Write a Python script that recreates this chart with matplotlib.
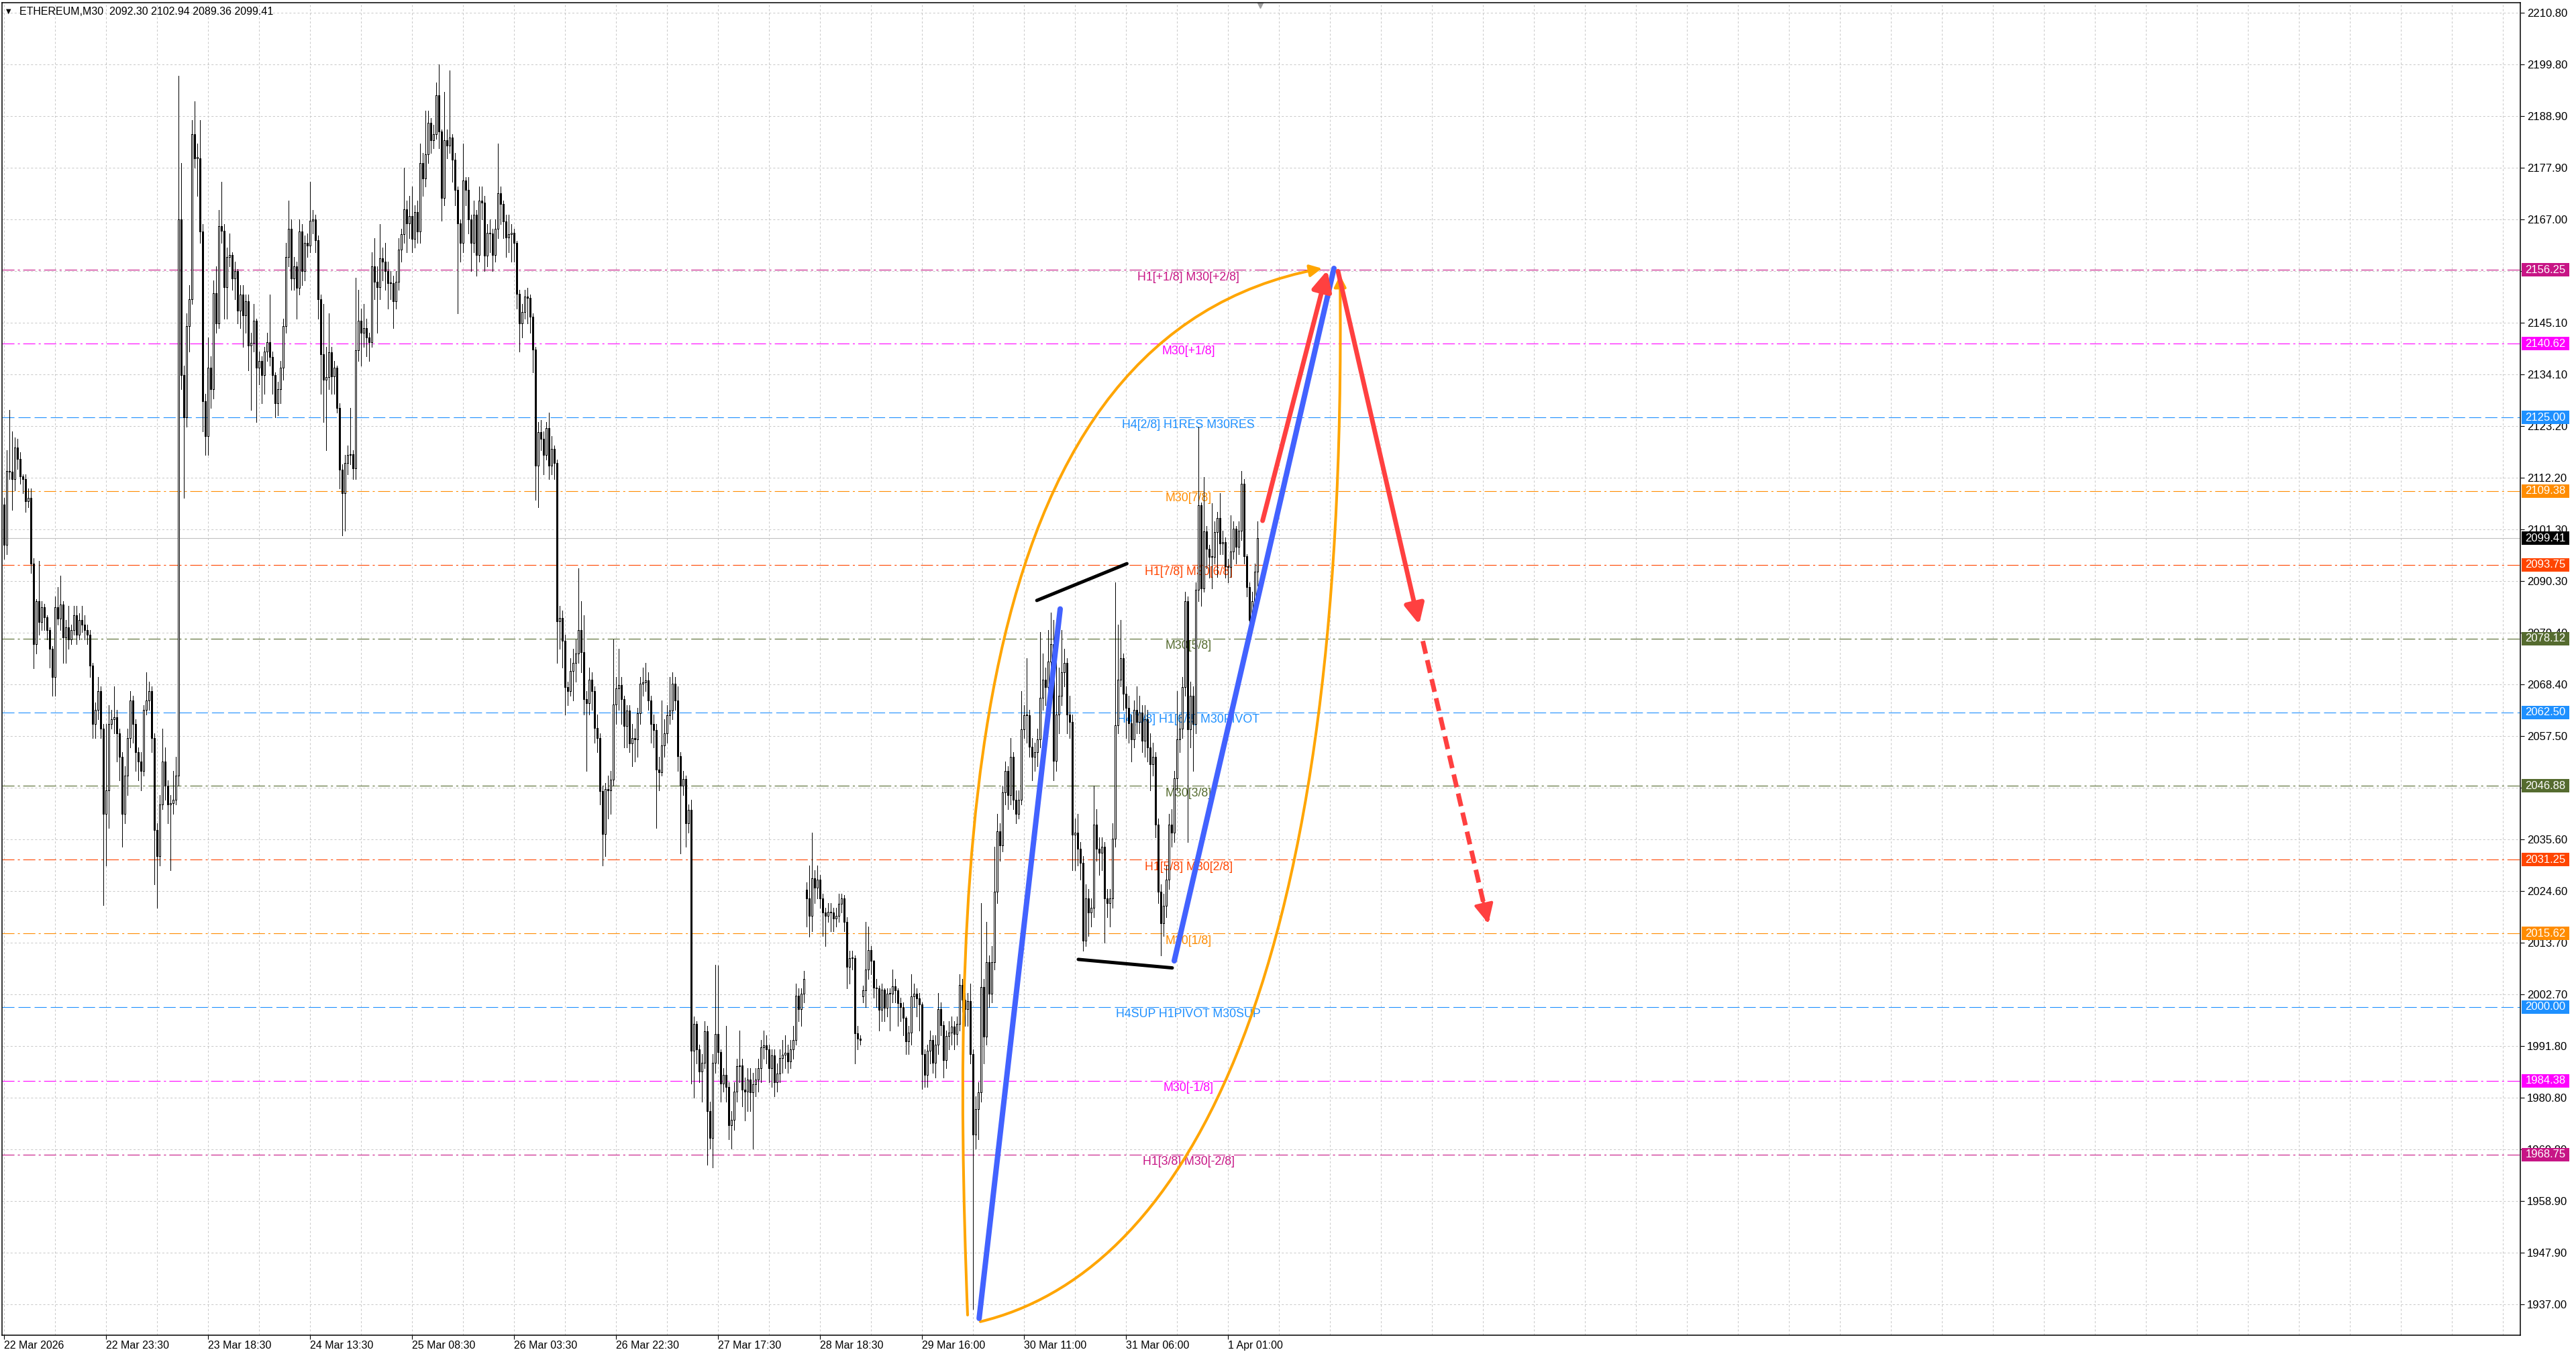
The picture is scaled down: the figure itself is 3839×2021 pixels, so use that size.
import matplotlib
matplotlib.use('Agg')
import numpy as np
import matplotlib.pyplot as plt
import matplotlib.transforms as mtransforms
from matplotlib.path import Path
from matplotlib.patches import FancyArrowPatch, Rectangle

plt.rcParams['font.family'] = ['Liberation Sans', 'DejaVu Sans']
plt.rcParams['lines.scale_dashes'] = False

# ETHEREUM M30 candles (bar index 0 = 22 Mar 2026 04:30)
first_open = 2106.6
gap_opens = {299: 2024.9, 320: 2002.2}
closes = [
    2098, 2113.6, 2113.5, 2112, 2118.6, 2116.2, 2112.5, 2111.9, 2107.3, 2108,
    2094, 2076.9, 2086, 2081.6, 2084.8, 2082.7, 2080, 2076, 2070, 2084.7,
    2082.4, 2085.3, 2078.3, 2080.5, 2078, 2080, 2083, 2079, 2082, 2081,
    2080, 2079, 2072.4, 2060, 2063, 2067, 2059, 2041, 2046, 2060,
    2061, 2061.5, 2058, 2053, 2041, 2049, 2057, 2065, 2060, 2054,
    2052, 2050, 2063, 2065, 2067, 2057, 2037.6, 2032, 2043, 2052,
    2047, 2043, 2043.3, 2044, 2049, 2167, 2134, 2125, 2144.3, 2150,
    2185, 2180, 2180, 2164.4, 2128.4, 2121, 2135.5, 2131, 2151.4, 2145,
    2165.6, 2164.5, 2152.6, 2159, 2159.5, 2154.4, 2156, 2147.6, 2151, 2146.6,
    2149.6, 2140.2, 2140.8, 2145.5, 2135.5, 2137, 2134, 2139, 2141, 2137.8,
    2134, 2128, 2131, 2135.5, 2144.3, 2159, 2165, 2154.4, 2157, 2152.5,
    2164.4, 2156, 2162, 2161.5, 2166.7, 2167, 2162.6, 2150, 2138.4, 2133,
    2133.5, 2138.8, 2133.7, 2135.5, 2127, 2113.9, 2108.9, 2115.4, 2117, 2117.2,
    2114.2, 2139.3, 2145.5, 2143, 2144, 2141.9, 2141, 2157, 2153.7, 2152.6,
    2158.7, 2158, 2156, 2153.5, 2153.5, 2149.6, 2153.7, 2160.6, 2163.8, 2169.1,
    2166.2, 2167.7, 2162.8, 2168.5, 2164.4, 2179, 2175.6, 2180.8, 2187.4, 2183.8,
    2185, 2193.3, 2185.6, 2171.5, 2183.8, 2182.7, 2184.4, 2179.7, 2173.2, 2166.2,
    2162, 2175.2, 2173.2, 2167, 2162, 2168, 2159.4, 2170.9, 2170.5, 2159.3,
    2164.1, 2164, 2159.4, 2165, 2172.6, 2170.2, 2166.5, 2163.2, 2163.8, 2164.1,
    2162, 2151.2, 2144.9, 2147.3, 2150.6, 2150.3, 2146.4, 2139.4, 2114.8, 2121.9,
    2120.5, 2117, 2122.7, 2114.8, 2118.4, 2115.4, 2081.8, 2082.5, 2077.7, 2067.9,
    2067, 2071.2, 2073, 2075, 2080, 2075.3, 2065.3, 2064.4, 2069.4, 2067,
    2059.2, 2057, 2045.8, 2036.7, 2046.2, 2046, 2048.2, 2064.1, 2067.6, 2068.2,
    2065.3, 2059.6, 2062.9, 2055.9, 2057, 2056.8, 2062.3, 2068.6, 2068.8, 2069.3,
    2065, 2060, 2058.7, 2050.4, 2049.8, 2055.5, 2058, 2061.9, 2062.9, 2068.5,
    2065, 2053.2, 2046.9, 2048.3, 2039, 2041.8, 1990.7, 1996.4, 1991, 1986.3,
    1988.2, 1994.8, 1978, 1972.3, 1988.2, 1994.3, 1990.5, 1983.8, 1985.6, 1983.1,
    1974.9, 1976.1, 1982.1, 1987.5, 1987.6, 1982.5, 1982, 1984.6, 1981.9, 1983.7,
    1984.6, 1987.1, 1991.4, 1991.9, 1991, 1987.1, 1989.7, 1984.1, 1985.9, 1989.2,
    1989.9, 1990.3, 1988.5, 1991, 1993, 2002.4, 1999.6, 2002.8, 2006, 2023.1,
    2019.3, 2027.3, 2025.3, 2027, 2023.1, 2020, 2019.3, 2020.2, 2020, 2018.7,
    2019.3, 2021.9, 2023.1, 2018, 2008.5, 2010.4, 2010.4, 1994.5, 1993.3, 1993,
    2003.5, 2007.9, 2012.1, 2009.8, 2004.1, 2004, 1999.4, 2003.7, 1999.9, 2002.8,
    2002.8, 2004.4, 2003.5, 2000.9, 2000, 1997.7, 1992.7, 1994.6, 2002.2, 2002.8,
    2001.8, 2000.6, 1990.1, 1985.6, 1990.7, 1993, 1988.2, 1992, 1999.6, 1996.1,
    1988.8, 1993.9, 1994.6, 1995.8, 1994.3, 1996.4, 2004.7, 2001.5, 1999.6, 2001.3,
    1990.1, 1972.9, 1978.3, 1981.9, 2004.3, 1993.8, 2009.5, 2002.8, 2009.5, 2024.5,
    2037.2, 2034.3, 2045.5, 2050, 2045, 2053, 2044, 2041, 2044, 2058.9,
    2061.9, 2061.8, 2055.2, 2053, 2054, 2056.7, 2065.6, 2069.4, 2067.9, 2073.2,
    2076.9, 2052.2, 2062, 2066, 2071, 2073, 2062, 2060.4, 2036.5, 2037,
    2033.5, 2030.5, 2014, 2023, 2020, 2021, 2038.7, 2033.5, 2032.7, 2034,
    2023, 2022, 2023, 2035.7, 2059.7, 2069.4, 2073.9, 2066.4, 2063.4, 2060.2,
    2056.7, 2063, 2060.5, 2062.5, 2056.5, 2061, 2055, 2051.5, 2053, 2038.7,
    2024.5, 2017.8, 2021.5, 2027, 2038.7, 2037, 2048.5, 2056.7, 2059, 2067.9,
    2086, 2058.9, 2066, 2060, 2088.5, 2106.4, 2088.8, 2100.9, 2097.1, 2095.4,
    2095.5, 2100.7, 2103.7, 2098.3, 2098.5, 2093.5, 2093.3, 2096.6, 2101.4, 2097.6,
    2101, 2111, 2095.6, 2089, 2082.1, 2086, 2092.3, 2099.41,
]
highs = [
    2108, 2118, 2126.6, 2122, 2120.7, 2120.5, 2117.6, 2113, 2113, 2110,
    2110, 2095.2, 2086.5, 2094.6, 2086, 2085.5, 2083, 2080.5, 2076.5, 2087,
    2089, 2091.5, 2086, 2082, 2085, 2081, 2085, 2085, 2083.5, 2085,
    2083, 2081, 2080, 2073, 2064.5, 2070, 2068, 2060, 2060, 2064,
    2063, 2068, 2063, 2059, 2054, 2051, 2059, 2067, 2066, 2061,
    2055, 2054, 2064, 2071, 2069, 2068, 2058, 2039, 2045, 2059,
    2055, 2048, 2045, 2050, 2053, 2197.4, 2179, 2136, 2147, 2153,
    2188, 2192, 2183, 2188, 2166, 2130, 2142, 2138, 2154, 2157,
    2169, 2175, 2166, 2161, 2164, 2160, 2158, 2156.5, 2153, 2153,
    2151, 2151, 2143, 2149, 2146, 2139, 2138, 2140, 2143, 2151,
    2139, 2134.5, 2132.5, 2137, 2146, 2162, 2171, 2167, 2159, 2158,
    2167, 2166, 2163.5, 2164, 2175, 2169, 2168, 2163.5, 2151, 2149,
    2140, 2147, 2140, 2137, 2136, 2128, 2115, 2117, 2119, 2127,
    2118, 2154.6, 2152, 2148, 2149, 2146, 2143, 2160, 2163, 2157,
    2166, 2161, 2162, 2158, 2156, 2155, 2156, 2163, 2165, 2178,
    2171, 2172, 2174, 2170, 2171, 2183, 2181, 2190, 2190, 2188.5,
    2187, 2196, 2199.8, 2186, 2194, 2186, 2198.5, 2185, 2181, 2174,
    2167, 2183, 2176, 2176, 2168, 2171, 2169, 2174, 2174, 2172,
    2166, 2167, 2165, 2167, 2183, 2174, 2171, 2168, 2168, 2166,
    2165, 2162.5, 2152, 2149, 2152, 2152.5, 2151, 2147, 2140, 2124,
    2124.5, 2122, 2124, 2126, 2121, 2119, 2116, 2085, 2084, 2079,
    2069, 2074, 2076, 2078, 2093, 2086, 2083, 2067, 2072, 2071,
    2068, 2062, 2058, 2047, 2047.5, 2049, 2050, 2078, 2070, 2076,
    2070, 2066, 2064, 2064, 2060, 2059, 2063.5, 2070, 2072, 2073,
    2071, 2066, 2062, 2060, 2053, 2065, 2061, 2064, 2070, 2071,
    2070, 2068, 2054, 2050, 2049, 2043, 2044, 1998, 1997, 1992,
    1990, 1997, 1996, 1980, 1990, 2009, 2008.8, 1991, 1987, 1996,
    1984, 1978, 1984, 1989, 1995, 1989, 1985, 1987, 1987, 1986,
    1987, 1989, 1993, 1995, 1994, 1992, 1991, 1991, 1988, 1991,
    1993, 1994, 1992, 1993, 1996, 2005, 2004, 2004, 2007.7, 2026.4,
    2030, 2037, 2029, 2030, 2028, 2024, 2021, 2022, 2022, 2021,
    2021, 2024, 2024, 2023.7, 2019, 2012, 2012, 2011, 1996, 1994,
    2004.5, 2018, 2017, 2013, 2010, 2006, 2004.5, 2005, 2004, 2004,
    2004, 2008, 2006, 2004, 2002, 2001, 1998, 1996, 2007, 2005,
    2004, 2003, 2001, 1991, 1992, 1995, 1994, 1994, 2003, 2001,
    1997, 1995, 1997, 1998, 1997, 1998, 2007, 2006, 2003, 2003,
    2005, 1991, 1981, 1984, 2022, 2006, 2018, 2011, 2013, 2034,
    2041, 2039, 2047, 2052, 2051, 2057, 2054, 2046, 2046, 2067,
    2064, 2073.9, 2063, 2057, 2056, 2059, 2079.5, 2075, 2072, 2080,
    2083.6, 2082, 2078, 2072, 2080, 2076, 2074, 2066, 2062, 2040,
    2041, 2035, 2032, 2026, 2025, 2023, 2047, 2042, 2036, 2036,
    2035, 2025, 2025, 2039, 2090, 2081, 2082, 2075, 2068, 2066,
    2062, 2065, 2068, 2066, 2064, 2064, 2063, 2058, 2056, 2054,
    2040, 2026, 2024, 2030, 2041, 2042, 2050, 2067, 2062, 2070,
    2088, 2087, 2069, 2068, 2090, 2123, 2107, 2112.3, 2102, 2098,
    2106.8, 2103, 2104.9, 2109, 2101, 2099.5, 2095, 2104.2, 2103, 2102,
    2103, 2113.7, 2112, 2096, 2090, 2088, 2094, 2102.94,
]
lows = [
    2095, 2096, 2112, 2105.4, 2109.5, 2114, 2111, 2109, 2105, 2106,
    2092, 2071.8, 2075, 2079, 2080, 2080, 2078, 2072, 2066, 2066,
    2081, 2080, 2073, 2073, 2076, 2077, 2079, 2077, 2078, 2079.5,
    2078, 2077, 2070, 2057, 2057, 2061, 2057, 2021.6, 2030, 2038,
    2059, 2058, 2052, 2048, 2034, 2039, 2045, 2055, 2056, 2050,
    2048, 2046, 2049, 2062, 2063, 2054, 2026, 2021, 2030, 2042,
    2044, 2039, 2029, 2041, 2043, 2047, 2131, 2108, 2123, 2139,
    2149, 2178, 2172, 2162, 2122, 2117, 2117, 2127, 2129, 2143,
    2144, 2162, 2146, 2146, 2157, 2152, 2150, 2145, 2144, 2140,
    2143, 2135, 2126.6, 2139, 2124, 2132, 2128, 2130, 2137, 2136,
    2130, 2125, 2125.5, 2128, 2133, 2143, 2157, 2152, 2152, 2146,
    2151, 2153, 2154, 2159, 2160, 2164, 2160, 2146, 2130, 2124,
    2118, 2131, 2130, 2130, 2126, 2110, 2100, 2101, 2113, 2115,
    2112, 2112, 2137, 2136, 2140, 2138, 2137, 2140, 2150, 2143,
    2150, 2154, 2152, 2148, 2150, 2144, 2148, 2152, 2158, 2162,
    2160, 2163, 2160, 2161, 2162, 2162, 2172, 2174, 2179, 2181,
    2182, 2184, 2182, 2166.7, 2170, 2180, 2181, 2175, 2170, 2147,
    2158, 2160, 2170, 2164, 2156, 2160, 2155, 2158, 2167, 2156,
    2157, 2160, 2156, 2158, 2163, 2166, 2163, 2159, 2160, 2158,
    2158, 2148, 2139, 2142, 2146, 2145, 2143, 2134.6, 2107.5, 2106,
    2118, 2113, 2116, 2112, 2113, 2112, 2073, 2076, 2072, 2062,
    2064, 2066, 2065, 2069, 2073, 2071, 2062, 2050, 2062, 2063,
    2056, 2054, 2043, 2030, 2032, 2040, 2041, 2047, 2060, 2063,
    2060, 2055, 2055, 2054, 2051, 2052, 2053, 2060, 2066, 2067,
    2063, 2056, 2055, 2038, 2046, 2049, 2053, 2056, 2060, 2061,
    2063, 2050, 2032.6, 2045, 2034, 2037, 1983.8, 1980.8, 1988, 1984,
    1980, 1987, 1966.6, 1970, 1966, 1986, 1988, 1980, 1982, 1980,
    1972, 1970, 1974, 1980, 1984, 1979, 1976, 1978, 1978, 1970,
    1981, 1982, 1984, 1989, 1988, 1984, 1983, 1981, 1982, 1984,
    1986, 1987, 1986, 1987, 1989, 1992, 1997, 1996, 2001, 2017,
    2014.9, 2016, 2022, 2023, 2021, 2015, 2013, 2018, 2016, 2016,
    2017, 2018, 2020, 2016, 2004, 2005, 2008, 1988, 1991, 1992,
    2001, 2000, 2006, 2007, 2002, 2000, 1995, 1997, 1997, 1998,
    1995, 2001, 2001, 1996, 1997, 1994, 1990, 1990, 1992, 2000,
    1998, 1995, 1982.6, 1983, 1983, 1988, 1986, 1985, 1990, 1994,
    1985, 1987, 1991, 1992, 1991, 1992, 1995, 1999, 1996, 1996,
    1988, 1936, 1970, 1972, 1980, 1988, 1992, 2000, 2001, 2008,
    2022, 2031, 2033, 2043, 2042, 2043, 2042, 2039, 2040, 2043,
    2057, 2056, 2053, 2048, 2050, 2051, 2055, 2063, 2064, 2066,
    2071, 2048, 2050, 2058, 2064, 2068, 2058, 2057, 2029, 2029,
    2030, 2027, 2012, 2013, 2015, 2017, 2019, 2031, 2028, 2029,
    2013.6, 2019, 2017, 2021, 2034, 2058, 2068, 2063, 2057, 2056,
    2052, 2055, 2058, 2058, 2054, 2053, 2052, 2046, 2049, 2036,
    2022, 2011, 2015, 2019, 2025, 2034, 2035, 2046, 2054, 2057,
    2066, 2035, 2055, 2050, 2058, 2086, 2085, 2088, 2093, 2091,
    2088.8, 2094, 2091.2, 2096, 2096, 2091, 2090, 2091.2, 2095, 2094,
    2096, 2099, 2094, 2087, 2080, 2081, 2085, 2089.36,
]

time_labels = ['22 Mar 2026', '22 Mar 23:30', '23 Mar 18:30', '24 Mar 13:30', '25 Mar 08:30',
               '26 Mar 03:30', '26 Mar 22:30', '27 Mar 17:30', '28 Mar 18:30', '29 Mar 16:00',
               '30 Mar 11:00', '31 Mar 06:00', '1 Apr 01:00']
bars_per_label = 38
price_ticks = [2210.80, 2199.80, 2188.90, 2177.90, 2167.00, 2156.10, 2145.10, 2134.10,
               2123.20, 2112.20, 2101.30, 2090.30, 2079.40, 2068.40, 2057.50, 2046.50,
               2035.60, 2024.60, 2013.70, 2002.70, 1991.80, 1980.80, 1969.80, 1958.90,
               1947.90, 1937.00]

# Murrey math levels
levels = [2156.25, 2140.62, 2125.00, 2109.38, 2093.75, 2078.12, 2062.50,
          2046.88, 2031.25, 2015.62, 2000.00, 1984.38, 1968.75]
level_names = ['H1[+1/8] M30[+2/8]', 'M30[+1/8]', 'H4[2/8] H1RES M30RES', 'M30[7/8]',
               'H1[7/8] M30[6/8]', 'M30[5/8]', 'H4[1/8] H1[6/8] M30PIVOT', 'M30[3/8]',
               'H1[5/8] M30[2/8]', 'M30[1/8]', 'H4SUP H1PIVOT M30SUP', 'M30[-1/8]',
               'H1[3/8] M30[-2/8]']
level_colors = ['#C71585', '#FF00FF', '#1E90FF', '#FF8C00', '#FF4500', '#556B2F', '#1E90FF',
                '#556B2F', '#FF4500', '#FF8C00', '#1E90FF', '#FF00FF', '#C71585']
level_dashed = [False, False, True, False, False, False, True,
                False, False, False, True, False, False]
label_bar = 441.3

current_price = 2099.41
header = 'ETHEREUM,M30  2092.30 2102.94 2089.36 2099.41'

# hand drawn objects (bar index, price)
blue_lines = [((363.3, 1934.0), (393.5, 2084.4)), ((436.0, 2009.8), (495.5, 2156.6))]
black_lines = [((384.8, 2086.2), (418.35, 2094.0)), ((400.25, 2010.1), (435.25, 2008.3))]
red_arrows = [((468.9, 2103.1), (493.0, 2156.2)), ((497.0, 2156.0), (527.25, 2081.1))]
red_dashed = ((528.6, 2077.6), (553.0, 2017.7))
left_arc = [(359.0, 1934.7), (352.25, 2035.7), (358.5, 2142.4), (491.0, 2156.6)]
right_arc = [(363.75, 1933.3), (436.0, 1943.2), (501.0, 2000.1), (497.75, 2155.2)]

W, H = 3839, 2021
fig = plt.figure(figsize=(W / 100, H / 100), dpi=100)
ax = fig.add_axes([3 / W, 31 / H, 3753 / W, 1986 / H])
ax.set_xlim(-0.75, 937.5)
ax.set_ylim(1930.43, 2212.93)

c = np.array(closes)
hi = np.array(highs)
lo = np.array(lows)
o = np.array([first_open] + closes[:-1])
for k, v in gap_opens.items():
    o[k] = v
x = np.arange(len(c))

# grid
for v in price_ticks:
    ax.axhline(v, color='#C8C8C8', lw=0.72, dashes=(2.2, 2.2), zorder=0)
for b in range(0, 938, 19):
    ax.axvline(b, color='#C8C8C8', lw=0.72, dashes=(2.2, 2.2), zorder=0)

# levels
for lv, name, col, dsh in zip(levels, level_names, level_colors, level_dashed):
    pat = (13, 4.3) if dsh else (13, 3.6, 2.2, 3.6)
    ax.axhline(lv, color=col, lw=0.8, dashes=pat, zorder=1)
    ax.text(label_bar, lv - 0.35, name, color=col, fontsize=12.8, ha='center', va='top', zorder=1.5)
ax.axhline(current_price, color='#C0C0C0', lw=0.8, zorder=1)

# candles
up = c >= o
ax.vlines(x, lo, hi, color='black', lw=0.72, zorder=3, antialiased=False)
ax.bar(x, np.maximum(np.abs(c - o), 0.15), bottom=np.minimum(o, c), width=0.72,
       color=np.where(up, 'white', 'black'), edgecolor='black', linewidth=0.72, zorder=4,
       antialiased=False)

# drawings
for arc in (left_arc, right_arc):
    path = Path(arc, [Path.MOVETO, Path.CURVE4, Path.CURVE4, Path.CURVE4])
    ax.add_patch(FancyArrowPatch(path=path, arrowstyle='-|>,head_length=0.6,head_width=0.3',
                                 mutation_scale=18, color='#FFA500', lw=2.9, zorder=5))
for p0, p1 in black_lines:
    ax.plot([p0[0], p1[0]], [p0[1], p1[1]], color='black', lw=3.6, solid_capstyle='round', zorder=6)
for p0, p1 in blue_lines:
    ax.plot([p0[0], p1[0]], [p0[1], p1[1]], color='#4262FF', lw=5.8, solid_capstyle='round', zorder=6)
for p0, p1 in red_arrows:
    ax.add_patch(FancyArrowPatch(posA=p0, posB=p1, arrowstyle='-|>,head_length=0.45,head_width=0.22',
                                 mutation_scale=40, color='#FF4040', lw=5, shrinkA=0, shrinkB=0,
                                 capstyle='round', zorder=7))
(a0, a1) = red_dashed
ax.plot([a0[0], a1[0]], [a0[1], a1[1]], color='#FF4040', lw=5, dashes=(14, 7), zorder=7)
near = (a1[0] - 0.08 * (a1[0] - a0[0]), a1[1] - 0.08 * (a1[1] - a0[1]))
ax.add_patch(FancyArrowPatch(posA=near, posB=a1, arrowstyle='-|>,head_length=0.45,head_width=0.22',
                             mutation_scale=40, color='#FF4040', lw=3, shrinkA=0, shrinkB=0, zorder=7))

# axes styling
for s in ax.spines.values():
    s.set_color('black')
    s.set_linewidth(1.1)
ax.yaxis.tick_right()
ax.set_yticks(price_ticks)
ax.set_yticklabels([f'{v:.2f}' for v in price_ticks])
ax.tick_params(axis='y', direction='out', length=4, width=0.8, pad=3, labelsize=12)
tick_bars = [i * bars_per_label for i in range(len(time_labels))]
ax.set_xticks(tick_bars)
ax.set_xticklabels(time_labels, ha='left')
ax.tick_params(axis='x', direction='out', length=4, width=0.8, pad=2, labelsize=11.5)

# price boxes on the right
trans = mtransforms.blended_transform_factory(ax.transAxes, ax.transData)
bw = 71 / 3753
bh = 2.85
for lv, col in list(zip(levels, level_colors)) + [(current_price, 'black')]:
    ax.add_patch(Rectangle((1 + 2 / 3753, lv - bh / 2), bw, bh, transform=trans, fc=col, ec='none',
                           clip_on=False, zorder=10))
    ax.text(1 + 2 / 3753 + bw / 2, lv, f'{lv:.2f}', transform=trans, ha='center', va='center',
            color='white', fontsize=12, zorder=11, clip_on=False)

# header and shift marker
fig.text(9 / W, 1 - 17 / H, '\u25bc', fontsize=7, va='center', ha='left', family='DejaVu Sans')
fig.text(29 / W, 1 - 17 / H, header, fontsize=11.5, va='center', ha='left')
ax.plot([len(c)], [1 - 4 / 1986], marker='v', color='#A0A0A0', ms=6,
        transform=mtransforms.blended_transform_factory(ax.transData, ax.transAxes), clip_on=False)

fig.savefig('out.png', dpi=100)
